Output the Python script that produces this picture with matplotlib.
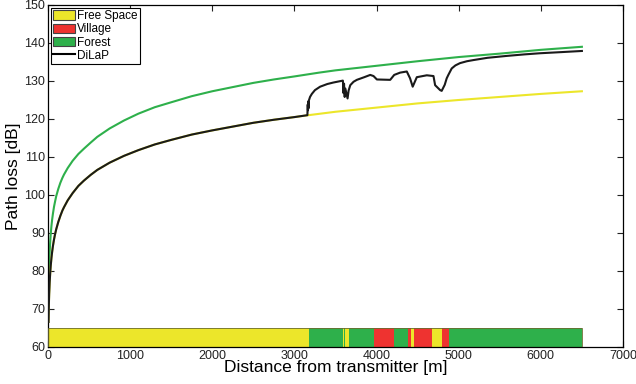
import numpy as np
import matplotlib
matplotlib.use("Agg")
import matplotlib.pyplot as plt
from matplotlib.patches import Patch
from matplotlib.lines import Line2D

plt.rcParams['font.family'] = ['Liberation Sans', 'DejaVu Sans']

# ---- datos ----
dist_fs = [6, 8, 10, 14, 20, 27, 33, 42, 50, 60, 73, 86, 100, 125, 150, 175,
           195, 240, 300, 370, 438, 520, 600, 750, 925, 1100, 1300, 1500, 1750,
           2000, 2250, 2500, 2750, 3000, 3170, 3500, 4000, 4500, 5000, 5500,
           6000, 6500]
loss_fs = [66.6, 69.1, 71.0, 73.9, 77.0, 79.6, 81.4, 83.5, 85.0, 86.6, 88.3,
           89.7, 91.0, 92.9, 94.5, 95.9, 96.8, 98.6, 100.5, 102.4, 103.8, 105.3,
           106.6, 108.5, 110.3, 111.8, 113.3, 114.5, 115.9, 117.0, 118.0, 119.0,
           119.8, 120.5, 121.0, 121.9, 123.0, 124.1, 125.0, 125.8, 126.6, 127.3]

dist_forest = [6, 8, 10, 14, 20, 27, 33, 42, 50, 60, 73, 86, 100, 125, 150,
               175, 195, 240, 300, 370, 438, 520, 600, 750, 925, 1100, 1300,
               1500, 1750, 2000, 2250, 2500, 2750, 3000, 3300, 3500, 4000, 4500,
               5000, 5500, 6000, 6500]
loss_forest = [74.1, 76.7, 78.7, 81.7, 85.0, 87.8, 89.7, 91.9, 93.5, 95.1, 96.9,
               98.3, 99.7, 101.6, 103.2, 104.5, 105.4, 107.1, 109.0, 110.8, 112.2,
               113.8, 115.3, 117.5, 119.6, 121.4, 123.1, 124.4, 126.0, 127.3,
               128.4, 129.5, 130.4, 131.2, 132.2, 132.8, 134.0, 135.2, 136.3,
               137.2, 138.2, 139.0]

dist_dilap = [6, 8, 10, 14, 20, 27, 33, 42, 50, 60, 73, 86, 100, 125, 150, 175,
              195, 240, 300, 370, 438, 520, 600, 750, 925, 1100, 1300, 1500,
              1750, 2000, 2250, 2500, 2750, 3000, 3158, 3162, 3165, 3168, 3171,
              3175, 3190, 3212, 3250, 3313, 3400, 3475, 3590, 3598, 3604, 3612,
              3620, 3647, 3660, 3680, 3720, 3760, 3850, 3923, 3963, 4004, 4166,
              4215, 4287, 4368, 4408, 4440, 4490, 4612, 4693, 4713, 4774, 4793,
              4830, 4854, 4874, 4915, 4960, 5016, 5100, 5178, 5350, 5585, 5800,
              5990, 6250, 6500]
loss_dilap = [66.6, 69.1, 71.0, 73.9, 77.0, 79.6, 81.4, 83.5, 85.0, 86.6, 88.3,
              89.7, 91.0, 92.9, 94.5, 95.9, 96.8, 98.6, 100.5, 102.4, 103.8,
              105.3, 106.6, 108.5, 110.3, 111.8, 113.3, 114.5, 115.9, 117.0,
              118.0, 119.0, 119.8, 120.5, 121.0, 123.8, 122.3, 124.6, 122.8,
              124.8, 125.8, 126.6, 127.6, 128.5, 129.2, 129.6, 130.1, 126.8,
              129.3, 125.8, 128.0, 125.4, 127.5, 128.9, 129.8, 130.3, 131.0,
              131.6, 131.3, 130.4, 130.3, 131.6, 132.2, 132.5, 130.7, 128.5,
              131.0, 131.5, 131.3, 128.9, 127.6, 127.4, 129.0, 130.7, 131.6,
              133.3, 134.1, 134.7, 135.2, 135.5, 136.1, 136.6, 137.0, 137.3,
              137.6, 137.9]

# tramos de la barra inferior: inicio, fin, tipo
seg_start = [0, 3175, 3590, 3600, 3612, 3670, 3970, 4215, 4380, 4425, 4460,
             4680, 4800, 4880]
seg_end   = [3175, 3590, 3600, 3612, 3670, 3970, 4215, 4380, 4425, 4460, 4680,
             4800, 4880, 6500]
seg_type  = ['free', 'forest', 'free', 'forest', 'free', 'forest', 'village',
             'forest', 'village', 'free', 'village', 'free', 'village', 'forest']

C_FREE   = '#ECE62A'
C_VILL   = '#EE3330'
C_FOREST = '#2EB04B'
colores = {'free': C_FREE, 'village': C_VILL, 'forest': C_FOREST}

fig = plt.figure(figsize=(6.36, 3.84), dpi=100)
ax = fig.add_axes([0.0755, 0.0964, 0.904, 0.8906])

ax.plot(dist_forest, loss_forest, color=C_FOREST, lw=1.5, zorder=2)
ax.plot(dist_fs, loss_fs, color=C_FREE, lw=1.5, zorder=2)
ax.plot(dist_dilap, loss_dilap, color='#1a1a1a', lw=1.5, zorder=3)

starts = np.array(seg_start)
ends = np.array(seg_end)
ax.barh(62.5, ends - starts, left=starts, height=5,
        color=[colores[t] for t in seg_type], linewidth=0, zorder=2)
# borde de la barra
ax.barh(62.5, ends[-1] - starts[0], left=starts[0], height=5,
        facecolor='none', edgecolor='#6b6b30', linewidth=0.6, zorder=3)

ax.set_xlim(0, 7000)
ax.set_ylim(60, 150)
ax.set_xticks(range(0, 7001, 1000))
ax.set_yticks(range(60, 151, 10))
ax.tick_params(direction='in', top=True, right=True, labelsize=9,
               length=4, width=0.8, pad=2, colors='#222222')
for s in ax.spines.values():
    s.set_linewidth(0.9)

ax.set_xlabel('Distance from transmitter [m]', fontsize=12.5, labelpad=-1)
ax.set_ylabel('Path loss [dB]', fontsize=12.5, labelpad=2)

handles = [Patch(facecolor=C_FREE, edgecolor='#444444', lw=0.8),
           Patch(facecolor=C_VILL, edgecolor='#444444', lw=0.8),
           Patch(facecolor=C_FOREST, edgecolor='#444444', lw=0.8),
           Line2D([0], [0], color='black', lw=1.5)]
leg = ax.legend(handles, ['Free Space', 'Village', 'Forest', 'DiLaP'],
                loc='upper left', fontsize=8.5, fancybox=False, framealpha=1,
                edgecolor='black', borderpad=0.2, labelspacing=0.1,
                handlelength=1.8, handleheight=0.9, handletextpad=0.2,
                borderaxespad=0.25)
leg.get_frame().set_linewidth(0.8)

fig.savefig('out.png', dpi=100)
